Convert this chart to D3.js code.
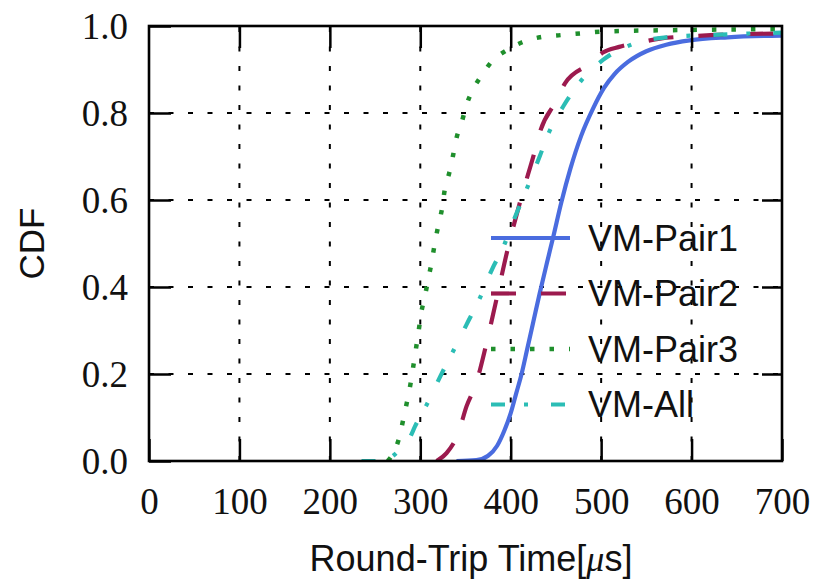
<!DOCTYPE html>
<html>
<head>
<meta charset="utf-8">
<script src="https://cdn.jsdelivr.net/npm/d3@7"></script>
<style>
  html, body { margin: 0; padding: 0; background: #fff; }
  svg { display: block; }
</style>
</head>
<body>
<svg id="chart" width="817" height="583"></svg>
<script>
// Round-trip time samples (µs) and their cumulative fractions, per VM pair
const seriesNames = ["VM-Pair1", "VM-Pair2", "VM-Pair3", "VM-All"];

const pair1Rtt = [340, 362, 375, 385, 393, 400, 406, 412, 418, 425, 432, 440, 447, 456, 466, 478, 491, 503, 515, 530, 550, 572, 598, 640, 700];
const pair1Cdf = [0, 0.002, 0.012, 0.035, 0.07, 0.11, 0.155, 0.2, 0.255, 0.32, 0.385, 0.455, 0.515, 0.595, 0.672, 0.748, 0.81, 0.857, 0.89, 0.918, 0.942, 0.957, 0.967, 0.974, 0.978];

const pair2Rtt = [318, 329, 342, 351, 362, 372, 383, 397, 412, 427, 432, 451, 460, 488, 502, 520, 547, 565, 605, 700];
const pair2Cdf = [0, 0.018, 0.064, 0.125, 0.18, 0.26, 0.36, 0.49, 0.608, 0.715, 0.754, 0.83, 0.868, 0.914, 0.939, 0.952, 0.964, 0.971, 0.977, 0.983];

const pair3Rtt = [264, 270, 277, 281, 285, 289, 292, 295, 298, 301, 305, 309, 313, 316, 320, 324, 327, 332, 336, 340, 346, 351, 358, 368, 379, 396, 412, 432, 455, 477, 499, 598, 700];
const pair3Cdf = [0, 0.018, 0.056, 0.094, 0.133, 0.175, 0.214, 0.255, 0.296, 0.34, 0.378, 0.42, 0.462, 0.5, 0.542, 0.58, 0.623, 0.662, 0.70, 0.742, 0.78, 0.818, 0.853, 0.887, 0.918, 0.945, 0.962, 0.974, 0.979, 0.983, 0.987, 0.991, 0.993];

const allRtt = [235, 258, 270, 280, 289, 294, 307, 322, 336, 351, 366, 379, 392, 405, 418, 432, 442, 458, 477, 502, 532, 572, 642, 700];
const allCdf = [0, 0, 0.012, 0.033, 0.056, 0.079, 0.129, 0.194, 0.251, 0.313, 0.375, 0.439, 0.493, 0.562, 0.627, 0.70, 0.754, 0.815, 0.872, 0.922, 0.956, 0.974, 0.981, 0.985];

const xTicks = [0, 100, 200, 300, 400, 500, 600, 700];
const yTicks = [0.0, 0.2, 0.4, 0.6, 0.8, 1.0];

const series = [
  { name: seriesNames[0], rtt: pair1Rtt, cdf: pair1Cdf, color: "#4a6cdf", dash: null,            width: 4.2 },
  { name: seriesNames[1], rtt: pair2Rtt, cdf: pair2Cdf, color: "#9c1a4e", dash: "25,25",         width: 4.2 },
  { name: seriesNames[2], rtt: pair3Rtt, cdf: pair3Cdf, color: "#1f8f2c", dash: "4.5,15",        width: 4.5 },
  { name: seriesNames[3], rtt: allRtt,   cdf: allCdf,   color: "#2bbdb5", dash: "14,19,4,23",    width: 4.2 }
];

const svg = d3.select("#chart");
const plot = { left: 149, right: 782, top: 26, bottom: 461 };

const x = d3.scaleLinear().domain([0, 700]).range([plot.left, plot.right]);
const y = d3.scaleLinear().domain([0, 1]).range([plot.bottom, plot.top]);

svg.append("defs").append("clipPath").attr("id", "plotClip")
  .append("rect")
  .attr("x", plot.left).attr("y", plot.top)
  .attr("width", plot.right - plot.left).attr("height", plot.bottom - plot.top);

// Dotted grid
const grid = svg.append("g").attr("stroke", "#000").attr("stroke-width", 2)
  .attr("stroke-dasharray", "5,14.5");
grid.selectAll("line.gx").data(xTicks.slice(1, -1)).join("line")
  .attr("x1", d => x(d)).attr("x2", d => x(d))
  .attr("y1", plot.bottom).attr("y2", plot.top);
grid.selectAll("line.gy").data(yTicks.slice(1, -1)).join("line")
  .attr("x1", plot.left).attr("x2", plot.right)
  .attr("y1", d => y(d)).attr("y2", d => y(d));

// Curves
const line = d3.line().x(d => x(d[0])).y(d => y(d[1])).curve(d3.curveMonotoneX);
const curves = svg.append("g").attr("clip-path", "url(#plotClip)");
series.forEach(s => {
  const pts = s.rtt.map((r, i) => [r, s.cdf[i]]);
  curves.append("path")
    .attr("d", line(pts))
    .attr("fill", "none")
    .attr("stroke", s.color)
    .attr("stroke-width", s.width)
    .attr("stroke-dasharray", s.dash)
    .attr("stroke-linecap", "butt")
    .attr("stroke-linejoin", "round");
});

// Axes (ticks point inward, mirrored on the opposite sides)
const tickLen = 22;
const xAxisBottom = d3.axisBottom(x).tickValues(xTicks).tickSizeInner(-tickLen).tickSizeOuter(0)
  .tickPadding(tickLen + 18).tickFormat(d3.format("d"));
const yAxisLeft = d3.axisLeft(y).tickValues(yTicks).tickSizeInner(-tickLen).tickSizeOuter(0)
  .tickPadding(tickLen + 20).tickFormat(d3.format(".1f"));
const xAxisTop = d3.axisTop(x).tickValues(xTicks.slice(1, -1)).tickSizeInner(-tickLen).tickSizeOuter(0).tickFormat("");
const yAxisRight = d3.axisRight(y).tickValues(yTicks.slice(1, -1)).tickSizeInner(-20).tickSizeOuter(0).tickFormat("");

function styleAxis(g) {
  g.select(".domain").remove();
  g.selectAll(".tick line").attr("stroke", "#000").attr("stroke-width", 2.5);
  g.selectAll(".tick text")
    .attr("fill", "#111")
    .attr("font-family", "'Liberation Serif', 'Times New Roman', serif")
    .attr("font-size", 37);
}

svg.append("g").attr("transform", `translate(0,${plot.bottom})`).call(xAxisBottom).call(styleAxis)
  .selectAll(".tick text").attr("dy", "0.71em").attr("y", 27);
svg.append("g").attr("transform", `translate(${plot.left},0)`).call(yAxisLeft).call(styleAxis)
  .selectAll(".tick text").attr("x", -21).attr("dy", "0.34em");
svg.append("g").attr("transform", `translate(0,${plot.top})`).call(xAxisTop).call(styleAxis);
svg.append("g").attr("transform", `translate(${plot.right},0)`).call(yAxisRight).call(styleAxis);

// Frame
svg.append("rect")
  .attr("x", plot.left).attr("y", plot.top)
  .attr("width", plot.right - plot.left).attr("height", plot.bottom - plot.top)
  .attr("fill", "none").attr("stroke", "#000").attr("stroke-width", 2.6);

// Legend
const legend = svg.append("g");
const legendTop = 238, legendStep = 55.5;
series.forEach((s, i) => {
  const ly = legendTop + i * legendStep;
  legend.append("line")
    .attr("x1", 491).attr("x2", 570).attr("y1", ly).attr("y2", ly)
    .attr("stroke", s.color).attr("stroke-width", s.width)
    .attr("stroke-dasharray", s.dash).attr("stroke-linecap", "butt");
  legend.append("text")
    .attr("x", 588).attr("y", ly + 12.5)
    .attr("font-family", "'Liberation Sans', Arial, sans-serif")
    .attr("font-size", 36).attr("fill", "#111")
    .text(s.name);
});

// Axis titles
svg.append("text")
  .attr("transform", `translate(44,${(plot.top + plot.bottom) / 2}) rotate(-90)`)
  .attr("text-anchor", "middle")
  .attr("font-family", "'Liberation Sans', Arial, sans-serif")
  .attr("font-size", 35).attr("fill", "#111")
  .text("CDF");

const xt = svg.append("text")
  .attr("x", 471).attr("y", 571)
  .attr("text-anchor", "middle")
  .attr("font-family", "'Liberation Sans', Arial, sans-serif")
  .attr("font-size", 36).attr("fill", "#111");
xt.append("tspan").text("Round-Trip Time[");
xt.append("tspan").attr("font-family", "'Liberation Serif', serif").attr("font-style", "italic").text("μ");
xt.append("tspan").text("s]");
</script>
</body>
</html>
